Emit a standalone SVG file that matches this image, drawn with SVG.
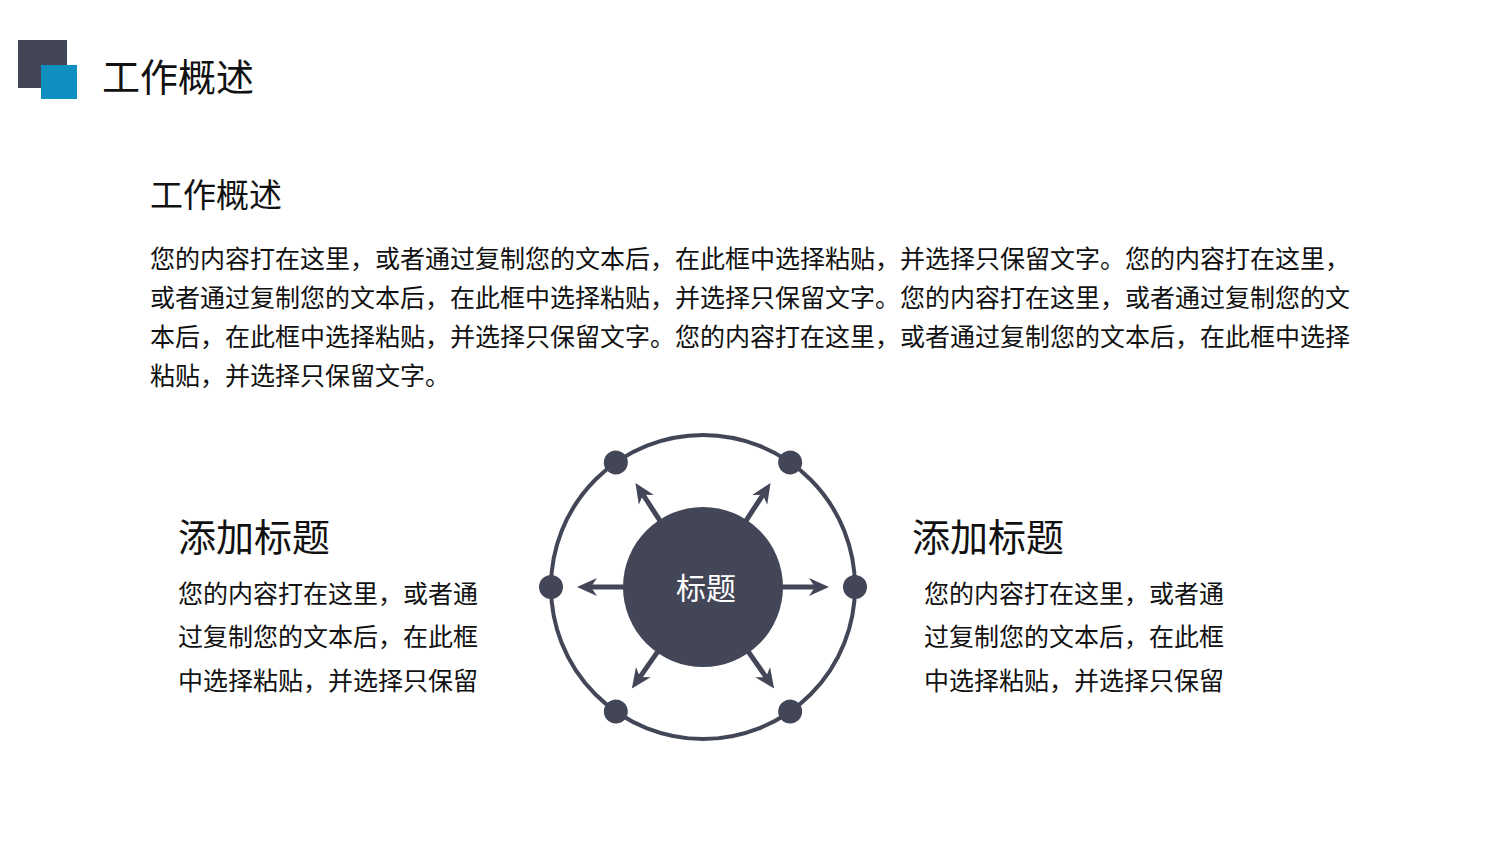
<svg xmlns="http://www.w3.org/2000/svg" width="1500" height="844" viewBox="0 0 1500 844">
<style>
.t{font-family:"Noto Sans CJK SC","Liberation Sans",sans-serif;fill:#111;}
.dot{fill:#434657;}
.shaft{stroke:#434657;stroke-width:5;fill:none;marker-end:url(#ah);}
</style>
<defs>
<marker id="ah" viewBox="0 0 20 20" markerUnits="userSpaceOnUse" markerWidth="20" markerHeight="20" refX="6" refY="10" orient="auto">
<path d="M0,1 L20,10 L0,19 L6,10 Z" fill="#434657"/>
</marker>
</defs>
<rect width="1500" height="844" fill="#fff"/>
<g id="header">
<rect x="18" y="40" width="49" height="48" fill="#434657"/>
<rect x="41" y="65" width="36" height="34" fill="#0E8FC0"/>
<text class="t" x="102" y="91" font-size="38">工作概述</text>
</g>
<g id="intro">
<text class="t" x="150" y="207" font-size="33">工作概述</text>
<text class="t" font-size="25">
<tspan x="150" y="268">您的内容打在这里，或者通过复制您的文本后，在此框中选择粘贴，并选择只保留文字。您的内容打在这里，</tspan>
<tspan x="150" y="307">或者通过复制您的文本后，在此框中选择粘贴，并选择只保留文字。您的内容打在这里，或者通过复制您的文</tspan>
<tspan x="150" y="346">本后，在此框中选择粘贴，并选择只保留文字。您的内容打在这里，或者通过复制您的文本后，在此框中选择</tspan>
<tspan x="150" y="385">粘贴，并选择只保留文字。</tspan>
</text>
</g>
<g id="left-block">
<text class="t" x="178" y="551" font-size="38">添加标题</text>
<text class="t" font-size="25">
<tspan x="178" y="603">您的内容打在这里，或者通</tspan>
<tspan x="178" y="646">过复制您的文本后，在此框</tspan>
<tspan x="178" y="690">中选择粘贴，并选择只保留</tspan>
</text>
</g>
<g id="right-block">
<text class="t" x="912" y="551" font-size="38">添加标题</text>
<text class="t" font-size="25">
<tspan x="924" y="603">您的内容打在这里，或者通</tspan>
<tspan x="924" y="646">过复制您的文本后，在此框</tspan>
<tspan x="924" y="690">中选择粘贴，并选择只保留</tspan>
</text>
</g>
<g id="ring">
<circle cx="703" cy="587" r="152" fill="none" stroke="#434657" stroke-width="4"/>
<g transform="translate(703,587)">
<circle class="dot" cx="152" cy="0" r="12"/>
<circle class="dot" cx="-152" cy="0" r="12"/>
<circle class="dot" transform="rotate(-55)" cx="152" cy="0" r="12"/>
<circle class="dot" transform="rotate(-125)" cx="152" cy="0" r="12"/>
<circle class="dot" transform="rotate(55)" cx="152" cy="0" r="12"/>
<circle class="dot" transform="rotate(125)" cx="152" cy="0" r="12"/>
</g>
</g>
<g id="connectors" transform="translate(703,587)">
<line class="shaft" x1="78" y1="0" x2="112" y2="0"/>
<line class="shaft" transform="rotate(180)" x1="78" y1="0" x2="112" y2="0"/>
<line class="shaft" transform="rotate(-57)" x1="78" y1="0" x2="110" y2="0"/>
<line class="shaft" transform="rotate(-123)" x1="78" y1="0" x2="110" y2="0"/>
<line class="shaft" transform="rotate(55)" x1="78" y1="0" x2="110" y2="0"/>
<line class="shaft" transform="rotate(125)" x1="78" y1="0" x2="110" y2="0"/>
</g>
<g id="center">
<circle cx="703" cy="587" r="80" fill="#434657"/>
<text x="706" y="599" font-size="30" text-anchor="middle" fill="#fff" font-family="Noto Sans CJK SC, Liberation Sans, sans-serif">标题</text>
</g>
</svg>
